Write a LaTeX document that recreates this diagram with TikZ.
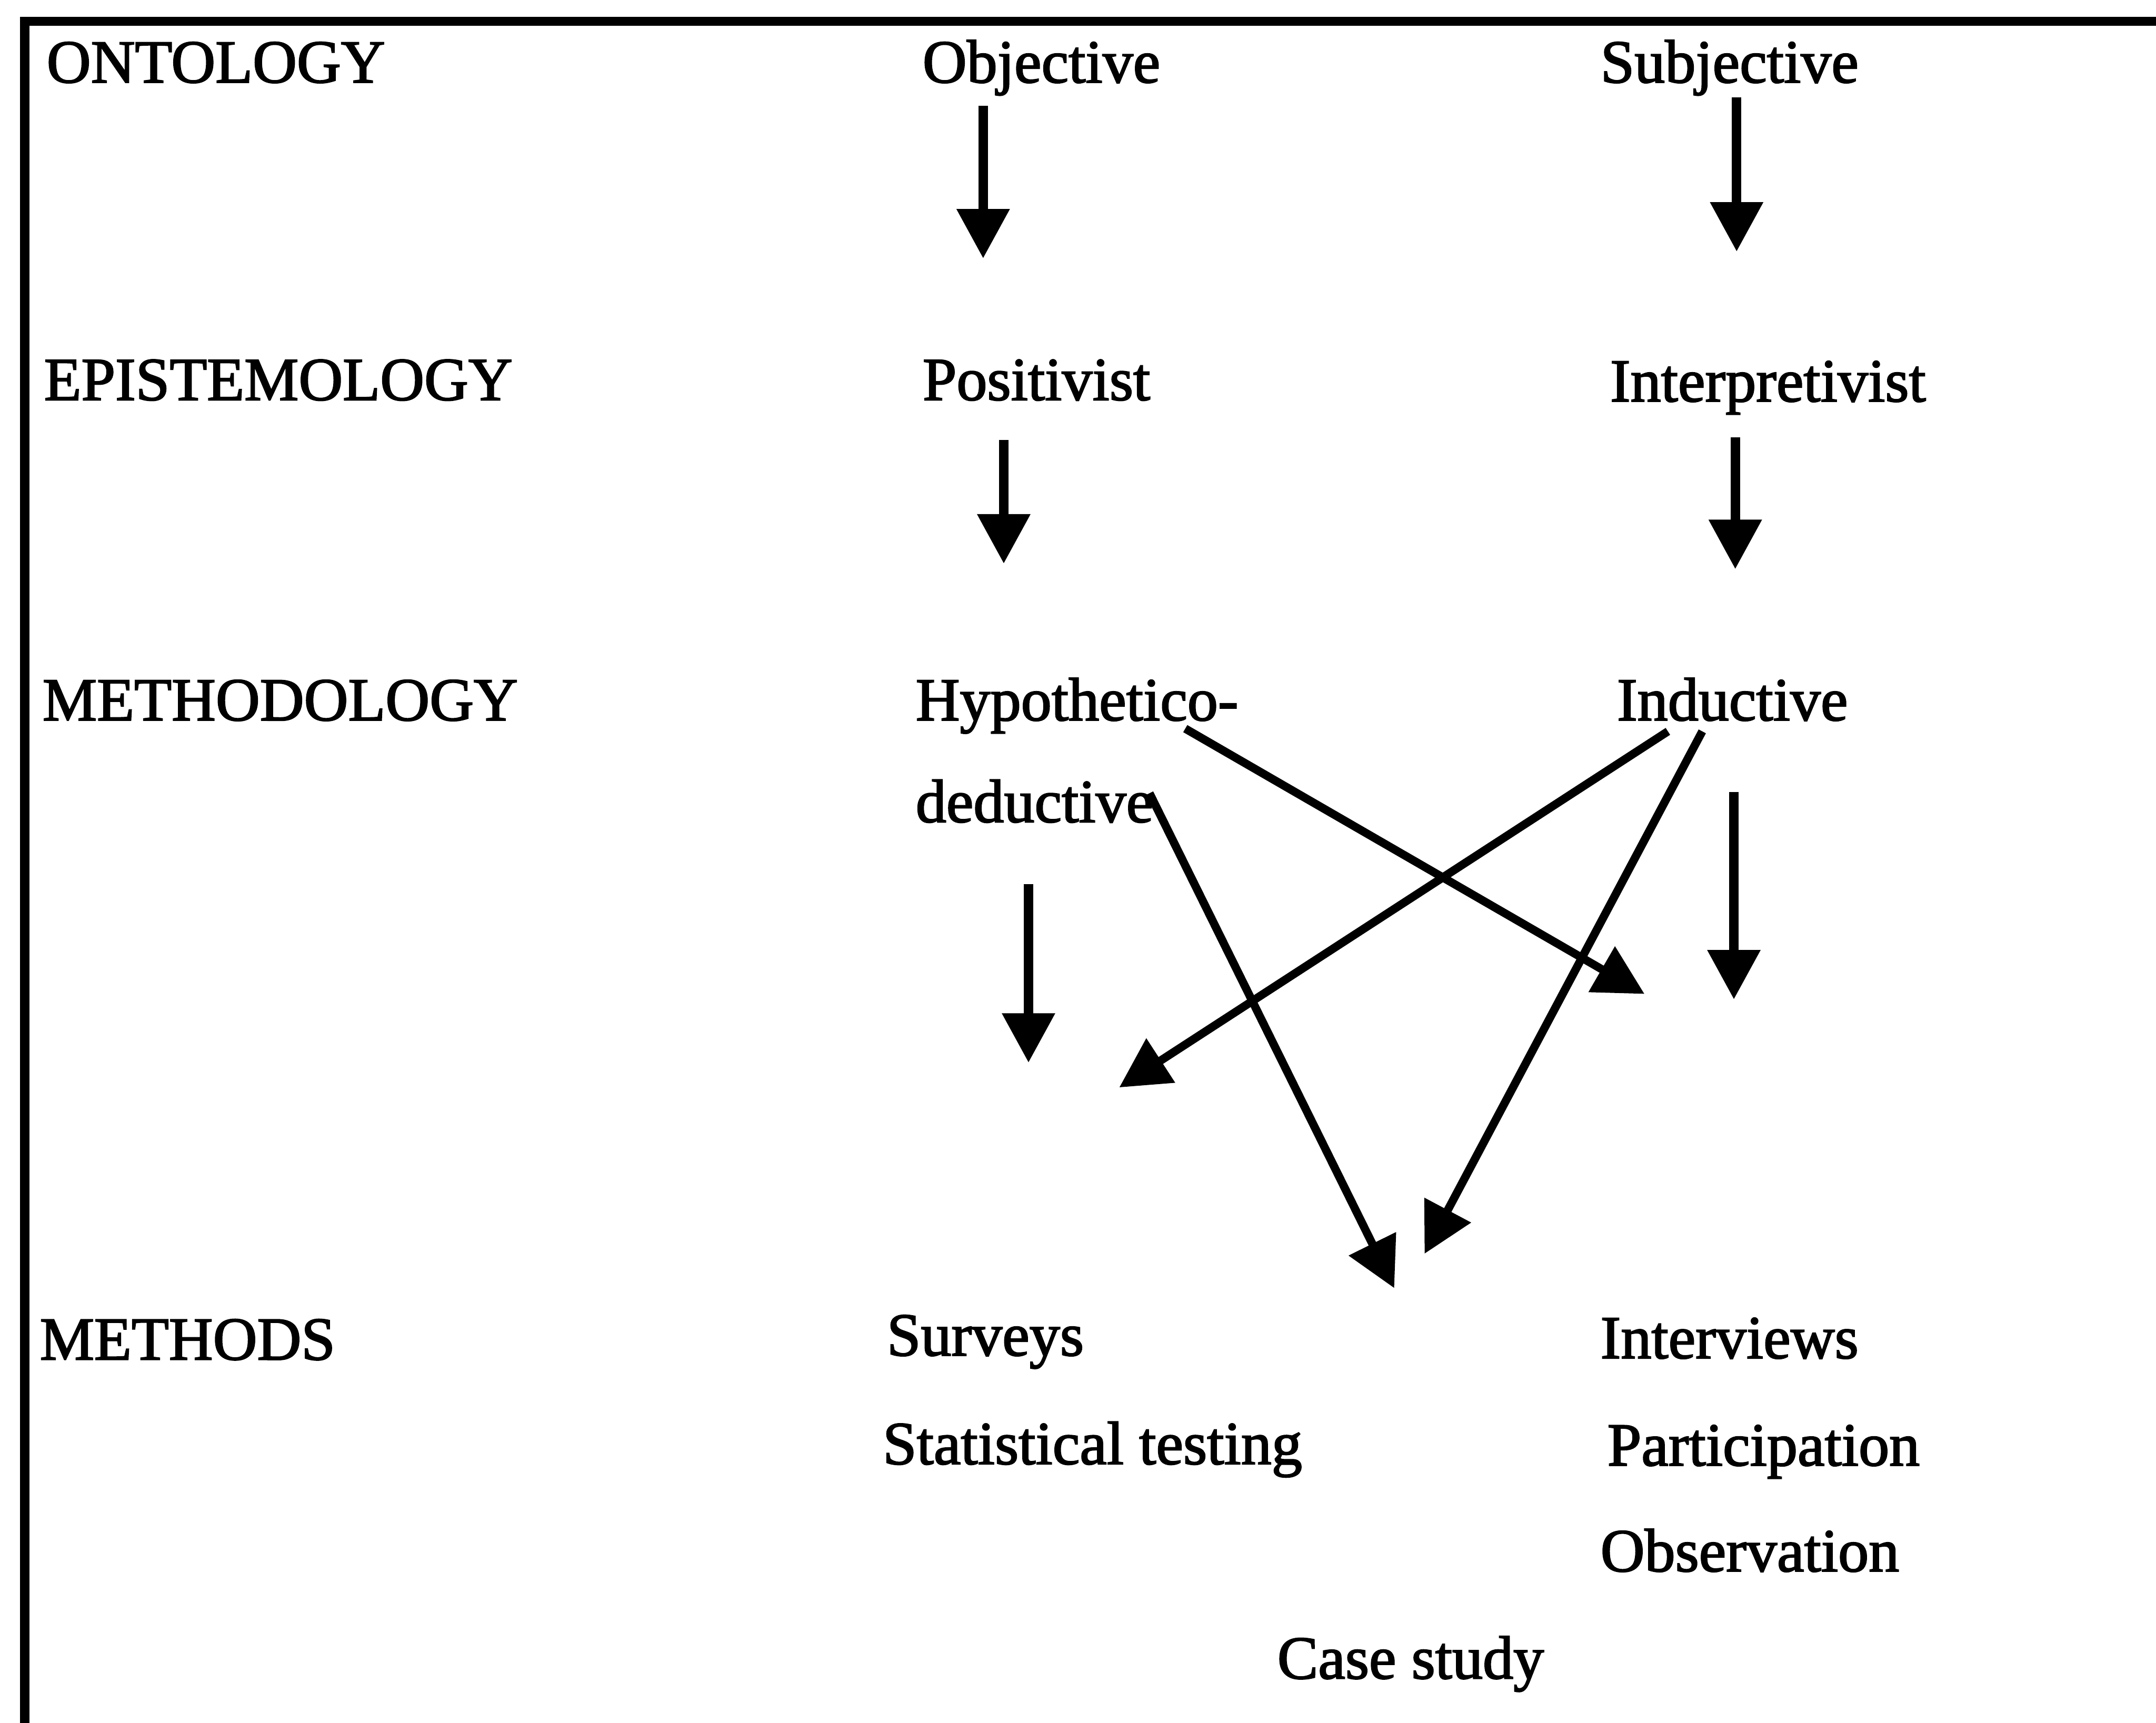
\documentclass[tikz,border=0pt]{standalone}
\usepackage{fontspec}
\setmainfont{Liberation Serif}[BoldFont={Liberation Serif},BoldFeatures={FakeBold=2}]
\usetikzlibrary{arrows.meta}
\begin{document}
\begin{tikzpicture}[x=0.02cm,y=-0.02cm,
  lbl/.style={anchor=base west, inner sep=0pt, outer sep=0pt, font=\fontsize{25.3}{30}\selectfont\bfseries},
  varr/.style={-{Triangle[length=0.72cm,width=0.74cm]}, line width=3.9pt},
  darr/.style={-{Triangle[length=0.72cm,width=0.74cm]}, line width=3.4pt},
  frame/.style={line width=3.9pt}]
\useasboundingbox (0,0) rectangle (1568,1253);
\clip (0,0) rectangle (1568,1253);
\fill[white] (0,0) rectangle (1568,1253);
% frame (top and left edges only visible)
\coordinate (fbl) at (18,1260);
\coordinate (ftl) at (18,15.5);
\coordinate (ftr) at (1575,15.5);
\draw[frame] (fbl) -- (ftl) -- (ftr);
% row labels
\node[lbl] (ont) at (34,60) {ONTOLOGY};
\node[lbl] (epi) at (32,291) {EPISTEMOLOGY};
\node[lbl] (mtd) at (31,524) {METHODOLOGY};
\node[lbl] (mth) at (29,989) {METHODS};
% left column
\node[lbl] (obj) at (671,60) {Objective};
\node[lbl] (pos) at (671,291) {Positivist};
\node[lbl] (hyp) at (666,524) {Hypothetico-};
\node[lbl] (ded) at (666,598) {deductive};
\node[lbl] (sur) at (645,986) {Surveys};
\node[lbl] (sta) at (642,1065) {Statistical testing};
% right column
\node[lbl] (sub) at (1164,60) {Subjective};
\node[lbl] (int) at (1171,292) {Interpretivist};
\node[lbl] (ind) at (1176,524) {Inductive};
\node[lbl] (itv) at (1164,988) {Interviews};
\node[lbl] (par) at (1169,1066) {Participation};
\node[lbl] (obs) at (1164,1143) {Observation};
% middle
\node[lbl] (cas) at (929,1221) {Case study};
% arrow end points
\coordinate (a1s) at (715,77);   \coordinate (a1e) at (715,188);
\coordinate (a2s) at (1263,71);  \coordinate (a2e) at (1263,183);
\coordinate (a3s) at (730,320);  \coordinate (a3e) at (730,410);
\coordinate (a4s) at (1262,318); \coordinate (a4e) at (1262,414);
\coordinate (a5s) at (748,643);  \coordinate (a5e) at (748,773);
\coordinate (a6s) at (1261,576); \coordinate (a6e) at (1261,727);
\coordinate (a7s) at (862,530);  \coordinate (a7e) at (1196,723);
\coordinate (a8s) at (1213,532); \coordinate (a8e) at (814,791);
\coordinate (a9s) at (836,577);  \coordinate (a9e) at (1014,937);
\coordinate (a10s) at (1238,532); \coordinate (a10e) at (1036,912);
% vertical arrows
\draw[varr] (a1s) -- (a1e);
\draw[varr] (a2s) -- (a2e);
\draw[varr] (a3s) -- (a3e);
\draw[varr] (a4s) -- (a4e);
\draw[varr] (a5s) -- (a5e);
\draw[varr] (a6s) -- (a6e);
% diagonal arrows
\draw[darr] (a7s) -- (a7e);
\draw[darr] (a8s) -- (a8e);
\draw[darr] (a9s) -- (a9e);
\draw[darr] (a10s) -- (a10e);
\end{tikzpicture}
\end{document}
